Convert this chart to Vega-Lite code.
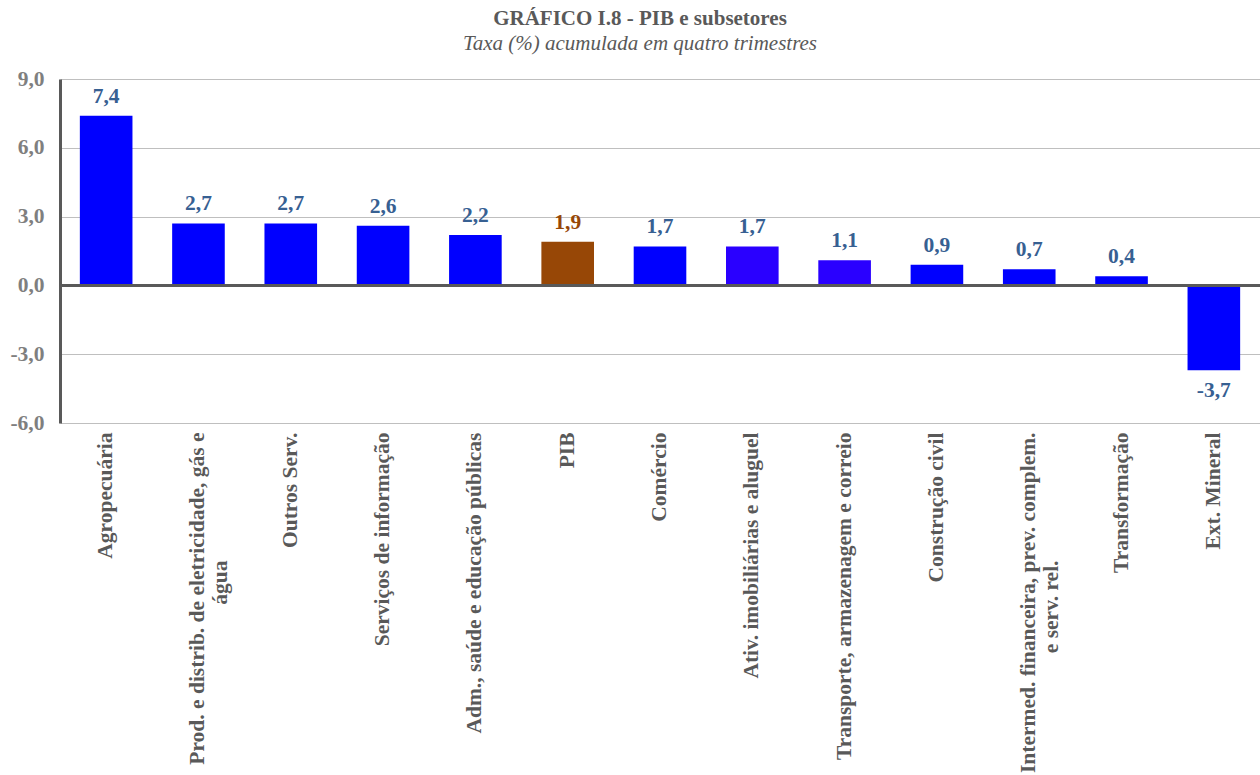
{
  "$schema": "https://vega.github.io/schema/vega-lite/v6.json",
  "autosize": {"type": "none"},
  "padding": {"left": 60, "top": 79, "right": 0, "bottom": 352},
  "width": 1200,
  "height": 344,
  "config": {
    "locale": {"number": {"decimal": ",", "thousands": ".", "grouping": [3], "currency": ["R$", ""], "minus": "-"}},
    "view": {"stroke": null},
    "font": "Liberation Serif"
  },
  "title": {
    "text": "GRÁFICO I.8 - PIB e subsetores",
    "subtitle": "Taxa (%) acumulada em quatro trimestres",
    "anchor": "middle",
    "dx": -20,
    "offset": 14,
    "font": "Liberation Serif",
    "fontSize": 21,
    "fontWeight": "bold",
    "color": "#595959",
    "subtitleFont": "Liberation Serif",
    "subtitleFontSize": 21,
    "subtitleFontStyle": "italic",
    "subtitleColor": "#595959",
    "subtitlePadding": 4
  },
  "data": {
    "values": [
      {"setor": "Agropecuária", "valor": 7.4},
      {"setor": "Prod. e distrib. de eletricidade, gás e|água", "valor": 2.7},
      {"setor": "Outros Serv.", "valor": 2.7},
      {"setor": "Serviços de informação", "valor": 2.6},
      {"setor": "Adm., saúde e educação públicas", "valor": 2.2},
      {"setor": "PIB", "valor": 1.9},
      {"setor": "Comércio", "valor": 1.7},
      {"setor": "Ativ. imobiliárias e aluguel", "valor": 1.7},
      {"setor": "Transporte, armazenagem e correio", "valor": 1.1},
      {"setor": "Construção civil", "valor": 0.9},
      {"setor": "Intermed. financeira, prev. complem.|e serv. rel.", "valor": 0.7},
      {"setor": "Transformação", "valor": 0.4},
      {"setor": "Ext. Mineral", "valor": -3.7}
    ]
  },
  "encoding": {
    "x": {
      "field": "setor",
      "type": "nominal",
      "sort": null,
      "scale": {"paddingInner": 0.43, "paddingOuter": 0.215},
      "axis": {
        "title": null,
        "domain": false,
        "ticks": false,
        "labelAngle": -90,
        "labelAlign": "right",
        "labelBaseline": "middle",
        "labelPadding": 9,
        "labelLimit": 400,
        "labelFont": "Liberation Serif",
        "labelFontSize": 21.5,
        "labelFontWeight": "bold",
        "labelColor": "#595959",
        "labelLineHeight": 23,
        "labelExpr": "indexof(datum.label, '|') >= 0 ? [split(datum.label, '|')[0], pad(split(datum.label, '|')[1], length(split(datum.label, '|')[1]) + 8, '\u2800')] : datum.label"
      }
    }
  },
  "layer": [
    {
      "mark": {"type": "bar"},
      "encoding": {
        "y": {
          "field": "valor",
          "type": "quantitative",
          "scale": {"domain": [-6, 9], "nice": false},
          "axis": {
            "title": null,
            "values": [-6, -3, 0, 3, 6, 9],
            "format": ".1f",
            "grid": true,
            "gridColor": "#BFBFBF",
            "gridWidth": 1,
            "domain": true,
            "domainColor": "#595959",
            "domainWidth": 3,
            "ticks": false,
            "labelPadding": 16,
            "labelFont": "Liberation Serif",
            "labelFontSize": 21.5,
            "labelFontWeight": "bold",
            "labelColor": "#7F7F7F"
          }
        },
        "color": {
          "field": "setor",
          "type": "nominal",
          "legend": null,
          "scale": {
            "domain": ["Agropecuária", "Prod. e distrib. de eletricidade, gás e|água", "Outros Serv.", "Serviços de informação", "Adm., saúde e educação públicas", "PIB", "Comércio", "Ativ. imobiliárias e aluguel", "Transporte, armazenagem e correio", "Construção civil", "Intermed. financeira, prev. complem.|e serv. rel.", "Transformação", "Ext. Mineral"],
            "range": ["#0000FF", "#0000FF", "#0000FF", "#0000FF", "#0000FF", "#974706", "#0000FF", "#2A00FF", "#2A00FF", "#0000FF", "#0000FF", "#0000FF", "#0000FF"]
          }
        }
      }
    },
    {
      "mark": {"type": "rule", "color": "#595959", "strokeWidth": 3},
      "encoding": {"y": {"datum": 0, "type": "quantitative"}, "x": {"value": 0}, "x2": {"value": 1200}}
    },
    {
      "transform": [{"filter": "datum.valor >= 0"}],
      "mark": {"type": "text", "baseline": "alphabetic", "dy": -13, "font": "Liberation Serif", "fontSize": 21.5, "fontWeight": "bold"},
      "encoding": {
        "y": {"field": "valor", "type": "quantitative"},
        "text": {"field": "valor", "type": "quantitative", "format": ".1f"},
        "color": {
          "condition": {"test": "datum.setor === 'PIB'", "value": "#974706"},
          "value": "#376092"
        }
      }
    },
    {
      "transform": [{"filter": "datum.valor < 0"}],
      "mark": {"type": "text", "baseline": "alphabetic", "dy": 27, "font": "Liberation Serif", "fontSize": 21.5, "fontWeight": "bold", "color": "#376092"},
      "encoding": {
        "y": {"field": "valor", "type": "quantitative"},
        "text": {"field": "valor", "type": "quantitative", "format": ".1f"}
      }
    }
  ]
}
